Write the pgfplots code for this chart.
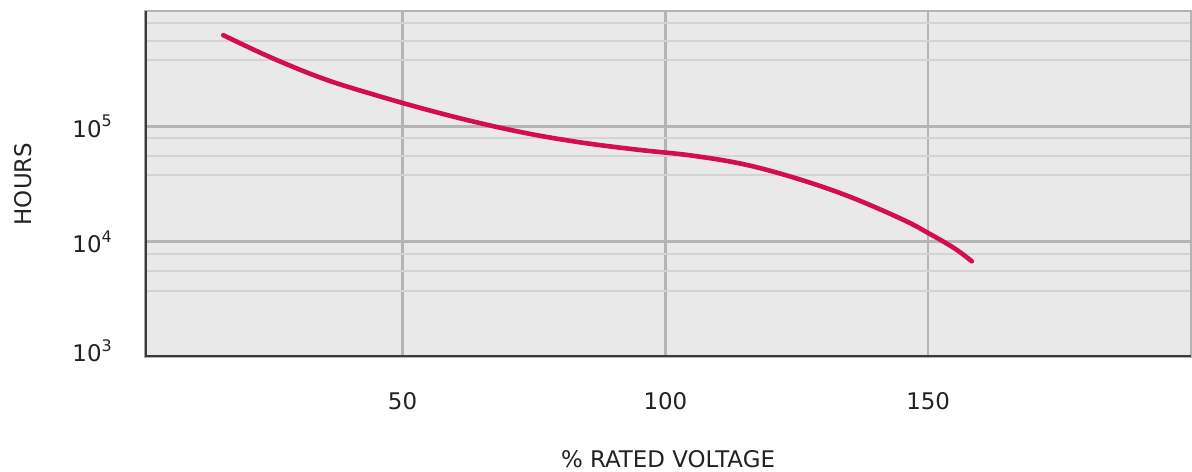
\documentclass[border=0pt]{standalone}
\usepackage{pgfplots}
\pgfplotsset{compat=1.18}
\usepackage{fontspec}
\setmainfont{DejaVu Sans}
\definecolor{bgcol}{HTML}{E9E9E9}
\definecolor{gridmajor}{HTML}{B4B4B4}
\definecolor{gridminor}{HTML}{D3D3D3}
\definecolor{axisdark}{HTML}{3A3A3A}
\definecolor{curvecol}{HTML}{D40E4C}
\definecolor{txt}{HTML}{222222}
\newcommand{\tp}[1]{10\raisebox{0.45em}{\fontsize{16}{16}\selectfont #1}}
\begin{document}
\begin{tikzpicture}
\begin{semilogyaxis}[
  scale only axis,
  width=1046bp, height=346bp,
  xmin=1, xmax=200,
  ymin=1e3, ymax=1e6,
  axis background/.style={fill=bgcol},
  axis line style={draw=gridmajor, line width=2.5bp},
  xtick={50,100,150,200},
  xticklabels={50,100,150,{}},
  ytick={1e3,1e4,1e5,1e6},
  yticklabels={\raisebox{13bp}{\tp{3}},\tp{4},\tp{5},{}},
  minor ytick={3.76e3,5.53e3,7.87e3,3.76e4,5.53e4,7.87e4,3.76e5,5.53e5,7.87e5},
  minor xtick={},
  major tick length=0pt, minor tick length=0pt,
  xmajorgrids=true, ymajorgrids=true, yminorgrids=true,
  major grid style={draw=gridmajor, line width=2.5bp},
  minor grid style={draw=gridminor, line width=2bp},
  tick label style={font=\fontsize{23}{26}\selectfont, text=txt, inner sep=0pt},
  xticklabel style={anchor=north, yshift=-35bp},
  yticklabel style={anchor=east, xshift=-33bp},
  xlabel={\% RATED VOLTAGE},
  label style={font=\fontsize{23}{26}\selectfont, text=txt, inner sep=0pt},
  xlabel style={at={(axis description cs:0.5,0)}, anchor=north, yshift=-93bp},
  clip=true,
]
\addplot[curvecol, line width=4.6bp, line cap=round, smooth, tension=0.6] coordinates {
  (15.9,6.17e5)
  (25,3.945e5)
  (35,2.582e5)
  (45,1.858e5)
  (55,1.380e5)
  (65,1.059e5)
  (75,8.47e4)
  (85,7.13e4)
  (95,6.25e4)
  (105,5.58e4)
  (115,4.68e4)
  (125,3.53e4)
  (135,2.46e4)
  (145,1.567e4)
  (150,1.189e4)
  (155,8.75e3)
  (158.3,6.76e3)
};
\draw[axisdark, line width=3.5bp] (rel axis cs:0,1) -- (rel axis cs:0,0) -- (rel axis cs:1,0);
\end{semilogyaxis}
\node[xshift=-131bp, rotate=90, anchor=north, inner sep=0pt, font=\fontsize{23}{26}\selectfont, text=txt] at (current axis.west) {HOURS};
\pgfresetboundingbox
\path (current axis.south west) ++(-145bp,-115bp) rectangle ([shift={(1bp,11bp)}]current axis.north east);
\end{tikzpicture}
\end{document}
